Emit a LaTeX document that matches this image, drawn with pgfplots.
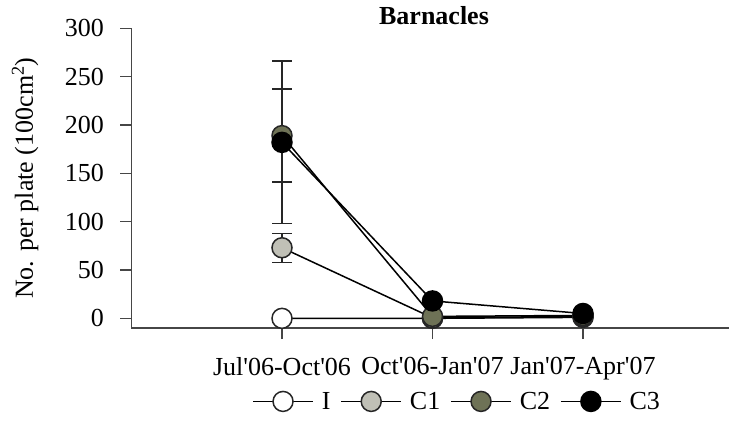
\documentclass[border=0pt]{standalone}
\usepackage{pgfplots}
\pgfplotsset{compat=1.18}
\usepackage{fontspec}
\setmainfont{Liberation Serif}
\definecolor{cI}{RGB}{255,255,255}
\definecolor{cCone}{RGB}{192,192,182}
\definecolor{cCtwo}{RGB}{110,114,86}
\definecolor{cCthree}{RGB}{0,0,0}
\definecolor{axgray}{RGB}{70,70,70}
\newcommand{\fs}{\fontsize{26}{31}\selectfont}
\begin{document}
\begin{tikzpicture}
\useasboundingbox (-131.5pt,-95pt) rectangle (603.5pt,328pt);
\begin{axis}[
  scale only axis,
  width=597.5pt, height=299.7pt,
  xmin=-1, xmax=2.97,
  ymin=-10, ymax=300,
  axis x line=bottom, axis y line=left,
  axis line style={-, line width=1.4pt, axgray},
  tick style={line width=1.4pt, axgray},
  tick align=outside,
  major tick length=11pt,
  xtick={0,1,2},
  xticklabels={Jul\textquotesingle06-Oct\textquotesingle06, Oct\textquotesingle06-Jan\textquotesingle07, Jan\textquotesingle07-Apr\textquotesingle07},
  ytick={0,50,100,150,200,250,300},
  /pgf/number format/assume math mode=true,
  tick label style={font=\fs},
  xticklabel style={yshift=-15pt},
  yticklabel style={xshift=-13pt},
  ylabel={No. per plate (100cm\textsuperscript{2})},
  every axis y label/.style={at={(axis description cs:-0.178,0.5)}, rotate=90, anchor=center, font=\fs},
  title={\textbf{Barnacles}},
  title style={at={(axis cs:1.01,300)}, anchor=base, font=\fs, yshift=-2pt},
  legend columns=4,
  legend style={draw=none, fill=none, font=\fs, at={(axis description cs:0.545,-0.245)}, anchor=center,
    /tikz/every odd column/.append style={column sep=6pt},
    /tikz/every even column/.append style={column sep=8pt}},
  legend image code/.code={\draw[mark repeat=2,mark phase=2,#1] plot coordinates {(0pt,0pt) (30pt,0pt) (60pt,0pt)};},
  every axis plot/.append style={line width=1.5pt, black, mark=*, mark size=10pt},
  clip=false,
]
\addplot[mark options={fill=cI, draw=black!85, line width=1.5pt}] coordinates {(0,0) (1,0) (2,1)};
\addlegendentry{I}
\addplot[mark options={fill=cCone, draw=black!85, line width=1.5pt},
  error bars/.cd, y dir=both, y explicit,
  error bar style={line width=1.5pt, black!85},
  error mark options={rotate=90, mark size=10pt, line width=1.5pt, black!85}]
  coordinates {(0,73) +- (0,15) (1,0.5) +- (0,0) (2,2) +- (0,0)};
\addlegendentry{C1}
\addplot[mark options={fill=cCtwo, draw=black!85, line width=1.5pt},
  error bars/.cd, y dir=both, y explicit,
  error bar style={line width=1.5pt, black!85},
  error mark options={rotate=90, mark size=10pt, line width=1.5pt, black!85}]
  coordinates {(0,189) +- (0,48) (1,2) +- (0,0) (2,3) +- (0,0)};
\addlegendentry{C2}
\addplot[mark options={fill=cCthree, draw=black, line width=1.5pt},
  error bars/.cd, y dir=both, y explicit,
  error bar style={line width=1.5pt, black!85},
  error mark options={rotate=90, mark size=10pt, line width=1.5pt, black!85}]
  coordinates {(0,182) +- (0,84) (1,18) +- (0,0) (2,5) +- (0,0)};
\addlegendentry{C3}
\end{axis}
\end{tikzpicture}
\end{document}
